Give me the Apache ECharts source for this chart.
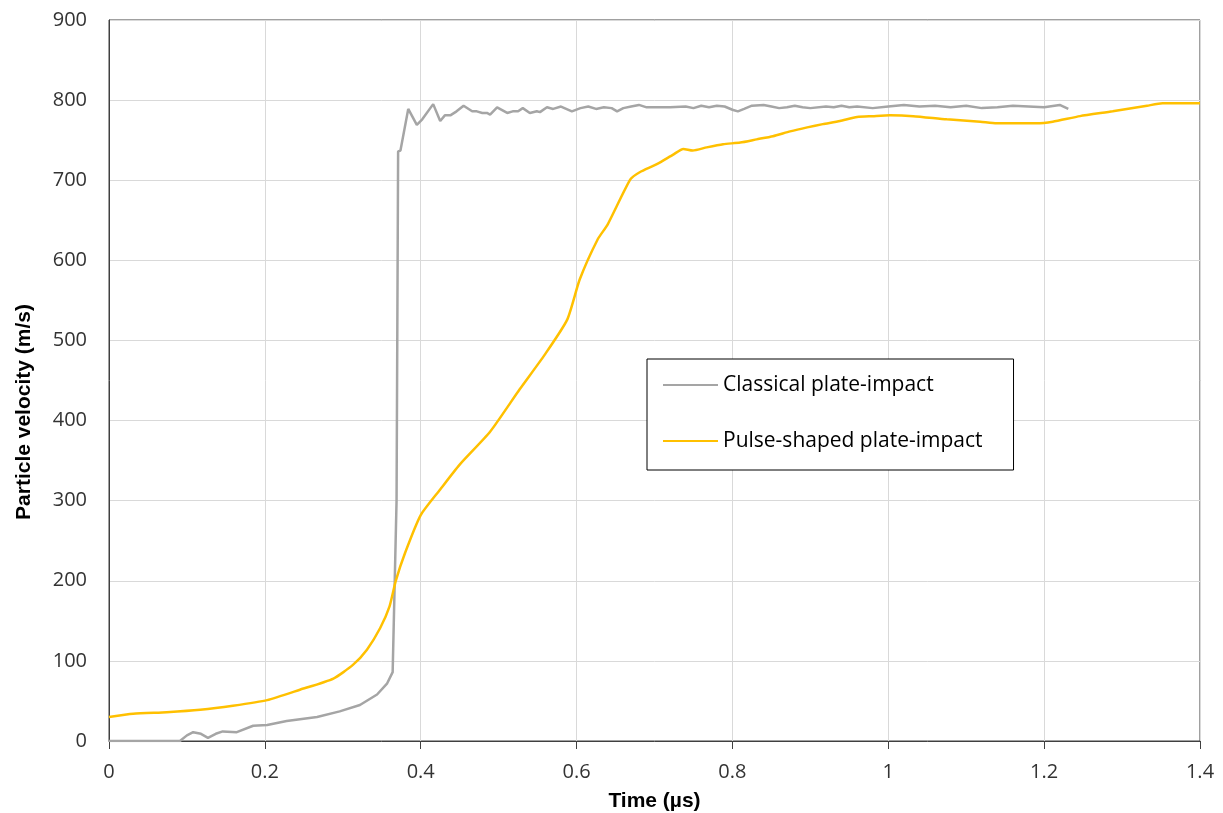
<!DOCTYPE html>
<html><head><meta charset="utf-8">
<script src="https://cdn.jsdelivr.net/npm/echarts@6/dist/echarts.min.js"></script>
<style>html,body{margin:0;padding:0;background:#fff}#c{width:1223px;height:813px}</style>
</head><body><div id="c"></div>
<script>
const xTicks = [0, 0.2, 0.4, 0.6, 0.8, 1, 1.2, 1.4];
const yTicks = [0, 100, 200, 300, 400, 500, 600, 700, 800, 900];
const seriesNames = ['Classical plate-impact', 'Pulse-shaped plate-impact'];
const xTitle = 'Time (µs)';
const yTitle = 'Particle velocity (m/s)';
const classicalT = [0, 0.091, 0.1, 0.108, 0.118, 0.127, 0.137, 0.146, 0.164, 0.185, 0.203, 0.228, 0.267, 0.296, 0.322, 0.344, 0.357, 0.364, 0.369, 0.371, 0.374, 0.384, 0.395, 0.402, 0.416, 0.425, 0.431, 0.438, 0.446, 0.455, 0.466, 0.472, 0.479, 0.485, 0.489, 0.498, 0.511, 0.518, 0.525, 0.531, 0.540, 0.549, 0.553, 0.562, 0.57, 0.58, 0.594, 0.605, 0.615, 0.625, 0.635, 0.645, 0.652, 0.66, 0.67, 0.68, 0.69, 0.70, 0.72, 0.74, 0.75, 0.76, 0.77, 0.78, 0.79, 0.80, 0.807, 0.815, 0.825, 0.84, 0.85, 0.86, 0.87, 0.88, 0.89, 0.9, 0.92, 0.93, 0.94, 0.95, 0.96, 0.98, 1.0, 1.02, 1.04, 1.06, 1.08, 1.1, 1.12, 1.14, 1.16, 1.18, 1.2, 1.22, 1.231];
const classicalV = [0, 0, 7, 11, 9, 4, 9, 12, 11, 19, 20, 25, 30, 37, 45, 58, 72, 86, 300, 736, 737, 789, 769, 776, 795, 774, 781, 781, 786, 793, 786, 786, 784, 784, 782, 791, 784, 786, 786, 790, 784, 786, 785, 791, 789, 792, 786, 790, 792, 789, 791, 790, 786, 790, 792, 794, 791, 791, 791, 792, 790, 793, 791, 793, 792, 788, 786, 789, 793, 794, 792, 790, 791, 793, 791, 790, 792, 791, 793, 791, 792, 790, 792, 794, 792, 793, 791, 793, 790, 791, 793, 792, 791, 794, 789];
const pulseT = [0, 0.031, 0.074, 0.117, 0.159, 0.203, 0.245, 0.288, 0.313, 0.331, 0.348, 0.360, 0.368, 0.38, 0.40, 0.425, 0.45, 0.489, 0.527, 0.559, 0.588, 0.604, 0.627, 0.640, 0.669, 0.681, 0.703, 0.724, 0.737, 0.749, 0.767, 0.788, 0.810, 0.831, 0.852, 0.874, 0.896, 0.916, 0.938, 0.960, 0.980, 1.002, 1.032, 1.075, 1.118, 1.139, 1.19, 1.211, 1.246, 1.288, 1.332, 1.352, 1.4];
const pulseV = [30, 34, 36, 39, 44, 51, 64, 78, 95, 114, 141, 168, 200, 235, 282, 314, 345, 386, 439, 482, 526, 576, 626, 645, 701, 710, 720, 732, 739, 737, 741, 745, 747, 751, 755, 761, 766, 770, 774, 779, 780, 781, 780, 776, 773, 771, 771, 773, 780, 786, 793, 796, 796];

const zip = (a, b) => a.map((t, i) => [t, b[i]]);
const chart = echarts.init(document.getElementById('c'), null, {renderer: 'canvas'});
const lab = {fontFamily: 'Open Sans, sans-serif', color: '#333', fontSize: 20};
const titleFont = {fontFamily: 'Liberation Sans, sans-serif', fontWeight: 'bold', fontSize: 21, color: '#000'};
chart.setOption({
  animation: false,
  backgroundColor: '#fff',
  grid: {left: 109, right: 23, top: 20, bottom: 72, show: true, borderColor: '#404040', borderWidth: 1,
         containLabel: false, outerBoundsMode: 'none'},
  graphic: [{
    type: 'text', z: 10,
    x: 24, y: 412, rotation: Math.PI / 2,
    style: {text: yTitle, textAlign: 'center', textVerticalAlign: 'middle', fill: '#000',
      font: 'bold 21px "Liberation Sans", sans-serif'}
  }],
  xAxis: {
    type: 'value', min: xTicks[0], max: xTicks[xTicks.length - 1], interval: 0.2,
    name: xTitle, nameLocation: 'middle', nameGap: 50,
    nameTextStyle: titleFont,
    axisLine: {show: true, lineStyle: {color: '#404040', width: 1}},
    axisTick: {show: true, inside: false, length: 8, lineStyle: {color: '#404040'}},
    axisLabel: Object.assign({margin: 21, formatter: v => String(+v.toFixed(1))}, lab),
    splitLine: {show: true, lineStyle: {color: '#d9d9d9', width: 1}}
  },
  yAxis: {
    type: 'value', min: yTicks[0], max: yTicks[yTicks.length - 1], interval: 100,
    axisLine: {show: true, lineStyle: {color: '#404040', width: 1}},
    axisTick: {show: false},
    axisLabel: Object.assign({margin: 22}, lab),
    splitLine: {show: true, lineStyle: {color: '#d9d9d9', width: 1}}
  },
  legend: {
    orient: 'vertical', left: 647, top: 359,
    padding: [15, 31, 18, 16], itemGap: 34, itemWidth: 55, itemHeight: 22,
    backgroundColor: '#fff', borderColor: '#000', borderWidth: 1,
    textStyle: {fontFamily: 'Open Sans, sans-serif', fontSize: 21, color: '#000', lineHeight: 22},
    data: seriesNames.map(n => ({name: n, icon: 'path://M0,10 L55,10 L55,12 L0,12 Z'}))
  },
  series: [
    {name: seriesNames[0], type: 'line', data: zip(classicalT, classicalV), showSymbol: false, symbol: 'none',
     lineStyle: {color: '#a5a5a5', width: 2.5}, itemStyle: {color: '#a5a5a5'}},
    {name: seriesNames[1], type: 'line', data: zip(pulseT, pulseV), showSymbol: false, symbol: 'none', smooth: 0.2,
     lineStyle: {color: '#ffc000', width: 2.5}, itemStyle: {color: '#ffc000'}}
  ]
});
</script></body></html>
